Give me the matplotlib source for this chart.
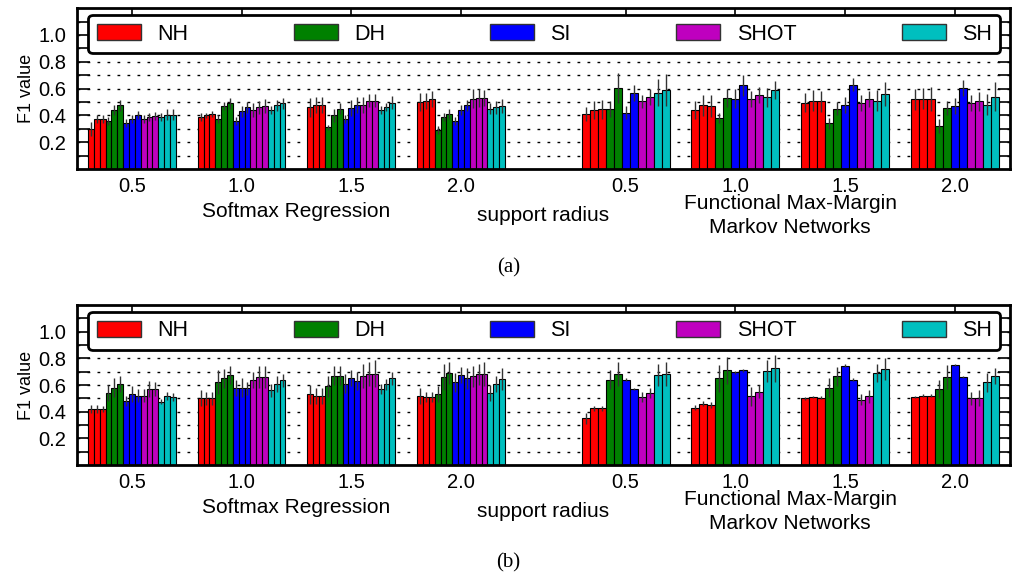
import matplotlib
matplotlib.use('Agg')
import matplotlib.pyplot as plt
import numpy as np

plt.rcParams['font.family'] = ['Liberation Sans', 'DejaVu Sans']

descriptors = ['NH', 'DH', 'SI', 'SHOT', 'SH']
colors = ['#FF0000', '#008000', '#0000FF', '#BF00BF', '#00BFBF']
radius_labels = ['0.5', '1.0', '1.5', '2.0', '0.5', '1.0', '1.5', '2.0']
group_pos = [0, 1, 2, 3, 4.5, 5.5, 6.5, 7.5]
method_labels = ['Softmax Regression', 'support radius', 'Functional Max-Margin\nMarkov Networks']
method_pos = [1.5, 3.75, 6.0]
panel_labels = ['(a)', '(b)']

# ---- panel (a) values: one list per group ----
a_NH = [[0.30, 0.37, 0.37], [0.39, 0.40, 0.41], [0.46, 0.475, 0.48], [0.50, 0.51, 0.525],
        [0.41, 0.44, 0.445], [0.44, 0.475, 0.47], [0.495, 0.51, 0.505], [0.52, 0.525, 0.52]]
a_DH = [[0.36, 0.44, 0.475], [0.37, 0.47, 0.49], [0.31, 0.40, 0.45], [0.29, 0.39, 0.41],
        [0.45, 0.605], [0.38, 0.53], [0.34, 0.45], [0.32, 0.455]]
a_SI = [[0.34, 0.375, 0.40], [0.36, 0.43, 0.46], [0.37, 0.455, 0.48], [0.36, 0.44, 0.475],
        [0.42, 0.57], [0.525, 0.625], [0.48, 0.63], [0.47, 0.605]]
a_SHOT = [[0.37, 0.39, 0.395], [0.44, 0.46, 0.47], [0.48, 0.51, 0.51], [0.525, 0.53, 0.53],
          [0.505, 0.54], [0.52, 0.55], [0.49, 0.52], [0.495, 0.505]]
a_SH = [[0.39, 0.405, 0.405], [0.44, 0.475, 0.49], [0.44, 0.46, 0.495], [0.45, 0.46, 0.47],
        [0.57, 0.59], [0.535, 0.59], [0.51, 0.56], [0.48, 0.54]]

a_NH_err = [[0.05, 0.03, 0.03], [0.03, 0.02, 0.02], [0.07, 0.06, 0.06], [0.07, 0.06, 0.06],
            [0.05, 0.07, 0.07], [0.07, 0.08, 0.08], [0.07, 0.08, 0.08], [0.08, 0.08, 0.09]]
a_DH_err = [[0.03, 0.04, 0.04], [0.03, 0.03, 0.04], [0.02, 0.05, 0.04], [0.03, 0.03, 0.04],
            [0.06, 0.11], [0.04, 0.07], [0.04, 0.05], [0.05, 0.05]]
a_SI_err = [[0.03, 0.03, 0.03], [0.03, 0.04, 0.04], [0.03, 0.06, 0.06], [0.03, 0.04, 0.04],
            [0.05, 0.06], [0.07, 0.08], [0.06, 0.05], [0.06, 0.06]]
a_SHOT_err = [[0.03, 0.03, 0.03], [0.05, 0.05, 0.05], [0.06, 0.05, 0.05], [0.07, 0.07, 0.06],
              [0.05, 0.06], [0.06, 0.06], [0.06, 0.06], [0.06, 0.07]]
a_SH_err = [[0.03, 0.04, 0.04], [0.03, 0.04, 0.04], [0.03, 0.03, 0.05], [0.04, 0.05, 0.05],
            [0.10, 0.12], [0.07, 0.07], [0.08, 0.09], [0.08, 0.11]]

# ---- panel (b) values ----
b_NH = [[0.42, 0.42, 0.42], [0.50, 0.50, 0.50], [0.53, 0.52, 0.52], [0.52, 0.51, 0.51],
        [0.35, 0.425, 0.425], [0.43, 0.46, 0.45], [0.50, 0.51, 0.505], [0.51, 0.52, 0.52]]
b_DH = [[0.54, 0.58, 0.605], [0.62, 0.65, 0.675], [0.59, 0.67, 0.67], [0.53, 0.66, 0.69],
        [0.64, 0.68], [0.65, 0.71], [0.58, 0.665], [0.57, 0.66]]
b_SI = [[0.48, 0.53, 0.52], [0.58, 0.58, 0.575], [0.61, 0.655, 0.63], [0.62, 0.675, 0.65],
        [0.64, 0.57], [0.695, 0.71], [0.745, 0.64], [0.75, 0.66]]
b_SHOT = [[0.52, 0.57, 0.57], [0.64, 0.66, 0.66], [0.67, 0.68, 0.685], [0.665, 0.68, 0.68],
          [0.51, 0.54], [0.515, 0.55], [0.49, 0.515], [0.50, 0.50]]
b_SH = [[0.475, 0.52, 0.51], [0.56, 0.61, 0.635], [0.57, 0.605, 0.65], [0.54, 0.61, 0.645],
        [0.675, 0.685], [0.705, 0.725], [0.69, 0.72], [0.62, 0.67]]

b_NH_err = [[0.03, 0.03, 0.02], [0.06, 0.05, 0.05], [0.07, 0.06, 0.06], [0.06, 0.04, 0.04],
            [0.04, 0.02, 0.02], [0.02, 0.02, 0.02], [0.01, 0.01, 0.01], [0.01, 0.01, 0.01]]
b_DH_err = [[0.06, 0.07, 0.06], [0.09, 0.07, 0.07], [0.08, 0.07, 0.07], [0.06, 0.10, 0.08],
            [0.07, 0.09], [0.10, 0.10], [0.07, 0.07], [0.07, 0.09]]
b_SI_err = [[0.04, 0.06, 0.05], [0.06, 0.07, 0.05], [0.07, 0.06, 0.07], [0.07, 0.06, 0.08],
            [0.01, 0.01], [0.01, 0.01], [0.01, 0.01], [0.01, 0.01]]
b_SHOT_err = [[0.05, 0.06, 0.05], [0.06, 0.08, 0.08], [0.09, 0.09, 0.10], [0.08, 0.08, 0.09],
              [0.04, 0.04], [0.07, 0.05], [0.04, 0.05], [0.05, 0.06]]
b_SH_err = [[0.02, 0.03, 0.03], [0.05, 0.06, 0.05], [0.04, 0.04, 0.05], [0.06, 0.06, 0.08],
            [0.08, 0.09], [0.08, 0.10], [0.07, 0.08], [0.07, 0.06]]

panels = [
    ([a_NH, a_DH, a_SI, a_SHOT, a_SH], [a_NH_err, a_DH_err, a_SI_err, a_SHOT_err, a_SH_err]),
    ([b_NH, b_DH, b_SI, b_SHOT, b_SH], [b_NH_err, b_DH_err, b_SI_err, b_SHOT_err, b_SH_err]),
]

fig = plt.figure(figsize=(10.16, 5.79), dpi=100)
axes_rects = [[0.0758, 0.708, 0.918, 0.278], [0.0758, 0.197, 0.918, 0.276]]

for (vals, errs), rect, plabel in zip(panels, axes_rects, panel_labels):
    ax = fig.add_axes(rect)
    group_width = 0.8
    for g, gp in enumerate(group_pos):
        heights, yerrs, cols = [], [], []
        for d in range(len(descriptors)):
            heights += vals[d][g]
            yerrs += errs[d][g]
            cols += [colors[d]] * len(vals[d][g])
        n = len(heights)
        w = group_width / n
        xs = [gp - group_width / 2 + w * (i + 0.5) for i in range(n)]
        ax.bar(xs, heights, w, color=cols, edgecolor='black', linewidth=0.8,
               yerr=yerrs, error_kw=dict(ecolor='#333333', elinewidth=1.0, capsize=0, zorder=3.5),
               zorder=3)
    ax.set_xlim(-0.5, 8.0)
    ax.set_ylim(0, 1.2)
    ax.set_xticks(group_pos)
    ax.set_xticklabels(radius_labels, fontsize=14.5)
    ax.set_yticks([0.2, 0.4, 0.6, 0.8, 1.0])
    ax.set_yticks([0.1, 0.3, 0.5, 0.7, 0.9, 1.1], minor=True)
    ax.set_yticklabels(['0.2', '0.4', '0.6', '0.8', '1.0'], fontsize=14.5)
    ax.tick_params(axis='both', which='both', direction='in', length=9, width=1.2,
                   top=True, right=True)
    ax.tick_params(axis='x', pad=6)
    ax.tick_params(axis='y', pad=8)
    ax.set_ylabel('F1 value', fontsize=13, labelpad=2)
    ax.set_axisbelow(False)
    ax.grid(True, axis='y', which='both', color='black', linestyle=(0, (2, 5.2)),
            linewidth=1.0, zorder=4)
    for sp in ax.spines.values():
        sp.set_linewidth(2.0)
        sp.set_zorder(6)

    handles = [plt.Rectangle((0, 0), 1, 1, facecolor=c, edgecolor='#333333', linewidth=1.0) for c in colors]
    leg = ax.legend(handles, descriptors, loc='lower left', bbox_to_anchor=(0.012, 0.72, 0.978, 0.205),
                    mode='expand', ncol=5, fontsize=15.5, handlelength=2.05, handleheight=0.75,
                    handletextpad=0.75, borderaxespad=0, frameon=True, fancybox=True,
                    borderpad=0.4)
    fr = leg.get_frame()
    fr.set_edgecolor('black')
    fr.set_linewidth(2.0)
    fr.set_alpha(1)
    leg.set_zorder(5)

    tr = ax.get_xaxis_transform()
    ax.text(method_pos[0], -0.265, method_labels[0], transform=tr, ha='center', va='center', fontsize=15)
    ax.text(method_pos[1], -0.29, method_labels[1], transform=tr, ha='center', va='center', fontsize=15)
    ax.text(method_pos[2], -0.29, method_labels[2], transform=tr, ha='center', va='center', fontsize=15,
            linespacing=1.3)
    ax.text(3.43, -0.615, plabel, transform=tr, ha='center', va='center', fontsize=15,
            family=['Liberation Serif', 'DejaVu Serif'])

fig.savefig('out.png', dpi=100)
